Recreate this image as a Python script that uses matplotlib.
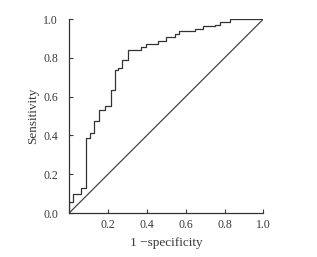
import matplotlib
matplotlib.use("Agg")
import matplotlib.pyplot as plt

# ROC corners: (fpr, tpr) at the top of each rise
fpr = [0.0, 0.0, 0.02, 0.06, 0.085, 0.105, 0.13, 0.155, 0.183, 0.218, 0.235,
       0.252, 0.27, 0.303, 0.372, 0.394, 0.458, 0.50, 0.543, 0.565, 0.65,
       0.688, 0.75, 0.776, 0.83, 1.0]
tpr = [0.0, 0.058, 0.10, 0.127, 0.385, 0.41, 0.475, 0.53, 0.553, 0.634, 0.737,
       0.75, 0.79, 0.838, 0.855, 0.871, 0.886, 0.905, 0.923, 0.938, 0.948,
       0.965, 0.97, 0.985, 1.0, 1.0]
diag = [0.0, 1.0]
xticks = [0.2, 0.4, 0.6, 0.8, 1.0]
yticks = [0.0, 0.2, 0.4, 0.6, 0.8, 1.0]

plt.rcParams["font.family"] = ["Liberation Serif", "DejaVu Serif"]
TXT = "#3a3a3a"

fig = plt.figure(figsize=(3.17, 2.57), dpi=100)
ax = fig.add_axes([0.218, 0.171, 0.613, 0.755])
ax.step(fpr, tpr, where="post", color="#333333", lw=0.9)
ax.plot(diag, diag, color="#444444", lw=0.9)

ax.set_xlim(0, 1)
ax.set_ylim(0, 1)
ax.set_xticks(xticks)
ax.set_xticklabels([f"{t:.1f}" for t in xticks])
ax.set_yticks(yticks)
ax.set_yticklabels([f"{t:.1f}" for t in yticks])
ax.tick_params(direction="in", length=3, width=0.8, labelsize=8.5,
               colors=TXT)
ax.tick_params(axis="y", pad=8)
ax.tick_params(axis="x", pad=4.5)
for s in ["top", "right"]:
    ax.spines[s].set_visible(False)
for s in ["left", "bottom"]:
    ax.spines[s].set_color("#333333")
    ax.spines[s].set_linewidth(0.9)

ax.set_xlabel("1 \u2212specificity", fontsize=9.5, color=TXT, labelpad=4)
ax.set_ylabel("Sensitivity", fontsize=9.5, color=TXT, labelpad=3)

fig.savefig("out.png", dpi=100)
